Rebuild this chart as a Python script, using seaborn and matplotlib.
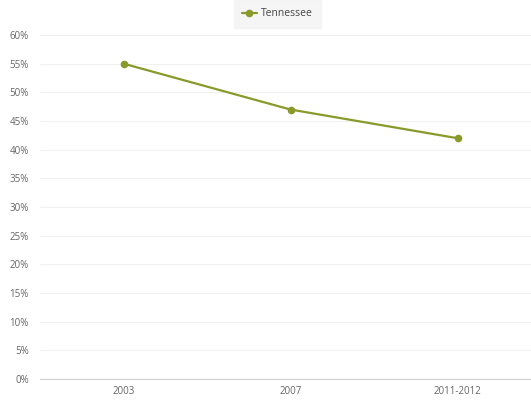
import matplotlib
matplotlib.use("Agg")
import matplotlib.pyplot as plt
import seaborn as sns
import pandas as pd
from matplotlib.ticker import FuncFormatter

# chart data
years = ["2003", "2007", "2011-2012"]
tennessee = [55, 47, 42]

df = pd.DataFrame({"year": years, "value": tennessee})

sns.set_style("white")
plt.rcParams['font.family'] = ['Open Sans', 'DejaVu Sans']

fig = plt.figure(figsize=(5.31, 4.0), dpi=100)
ax = fig.add_axes([40 / 531, 21 / 400, 501 / 531, 344 / 400])

green = "#8a9a2a"
sns.lineplot(data=df, x="year", y="value", ax=ax, color=green, marker="o",
             markersize=5.5, markeredgewidth=0, linewidth=1.6,
             label="Tennessee", sort=False)

ax.set_ylim(0, 60)
ax.set_xlim(-0.5, 2.5)
ax.set_yticks(range(0, 61, 5))
ax.yaxis.set_major_formatter(FuncFormatter(lambda v, p: f"{int(v)}%"))
ax.grid(axis="y", color="#f0f0f0", linewidth=0.8)
ax.set_xlabel("")
ax.set_ylabel("")
for s in ["top", "right", "left"]:
    ax.spines[s].set_visible(False)
ax.spines["bottom"].set_color("#d0d0d0")
ax.tick_params(axis="both", length=0, labelsize=7, colors="#666666")
ax.tick_params(axis="y", pad=8)
ax.tick_params(axis="x", pad=5)

leg = ax.legend(loc="center", bbox_to_anchor=(277.5 / 531, 386 / 400),
                bbox_transform=fig.transFigure, frameon=True, fontsize=7.5,
                handlelength=1.4, borderpad=0.5, handletextpad=0.4)
leg.get_frame().set_facecolor("#f3f3f3")
leg.get_frame().set_edgecolor("#f3f3f3")
leg.get_frame().set_boxstyle("square")
for t in leg.get_texts():
    t.set_color("#444444")

fig.savefig("out.png", dpi=100)
